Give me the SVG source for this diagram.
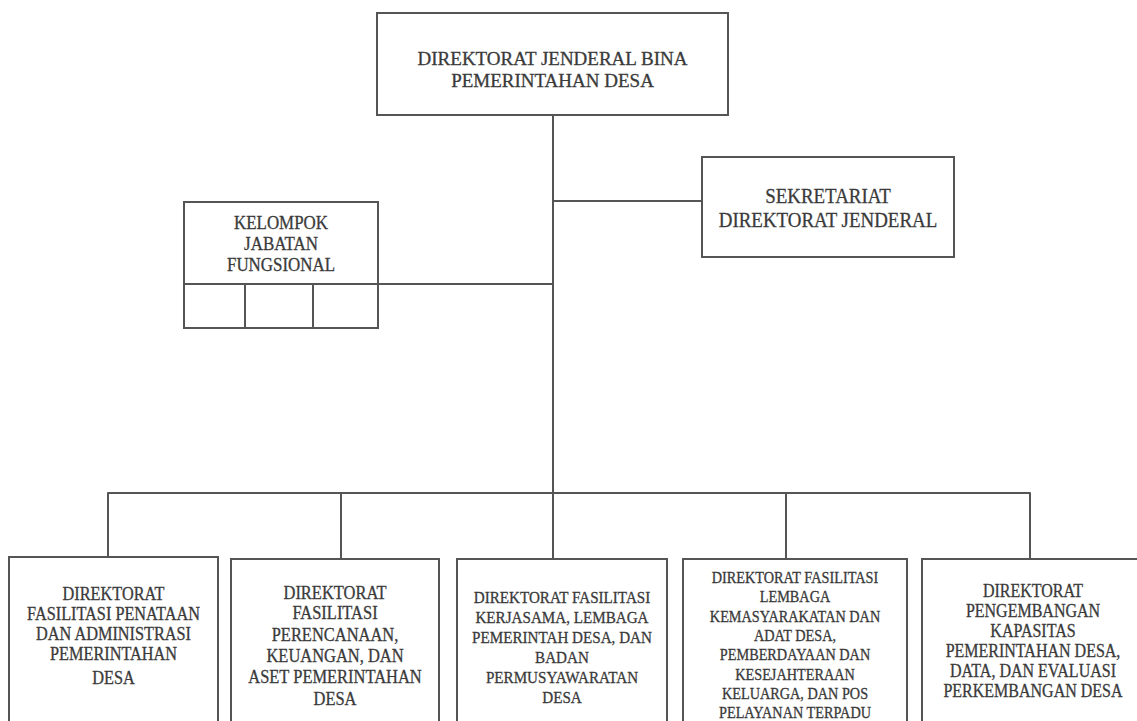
<svg xmlns="http://www.w3.org/2000/svg" width="1137" height="721" viewBox="0 0 1137 721">
  <style>
    .box { fill: #ffffff; stroke: #555555; stroke-width: 2; }
    .ln { fill: none; stroke: #555555; stroke-width: 2; stroke-linejoin: round; }
    text { font-family: "Liberation Serif", "Times New Roman", serif; fill: #3a3a3a; stroke: #3a3a3a; stroke-width: 0.3; text-anchor: middle; }
    .t19 { font-size: 19px; }
    .tsek { font-size: 21.5px; }
    .tkel { font-size: 18.8px; }
    .tb1 { font-size: 18.5px; }
    .tb2 { font-size: 18.5px; }
    .tb3 { font-size: 17.2px; }
    .tb4 { font-size: 16.4px; }
    .tb5 { font-size: 18.2px; }
  </style>
  <rect x="0" y="0" width="1137" height="721" fill="#ffffff"/>

  <g id="connectors">
    <path class="ln" d="M553,115 V493"/>
    <path class="ln" d="M553,201 H702"/>
    <path class="ln" d="M378,284 H553"/>
    <path class="ln" d="M108,557 V493 H1030 V559"/>
    <path class="ln" d="M341,493 V559"/>
    <path class="ln" d="M553,493 V559"/>
    <path class="ln" d="M786,493 V559"/>
  </g>

  <g id="dirjen">
    <rect class="box" x="377" y="13" width="351" height="102"/>
    <text class="t19" x="552.5" y="65">DIREKTORAT JENDERAL BINA</text>
    <text class="t19" x="552.5" y="87">PEMERINTAHAN DESA</text>
  </g>

  <g id="sekretariat">
    <rect class="box" x="702" y="157" width="252" height="100"/>
    <g transform="translate(828 0) scale(0.88 1)">
      <text class="tsek" x="0" y="203">SEKRETARIAT</text>
      <text class="tsek" x="0" y="227">DIREKTORAT JENDERAL</text>
    </g>
  </g>

  <g id="kelompok">
    <rect class="box" x="184" y="202" width="194" height="126"/>
    <path class="ln" d="M184,284 H378 M245,284 V328 M313,284 V328"/>
    <g transform="translate(281 0) scale(0.9 1)">
      <text class="tkel" x="0" y="229">KELOMPOK</text>
      <text class="tkel" x="0" y="250">JABATAN</text>
      <text class="tkel" x="0" y="271">FUNGSIONAL</text>
    </g>
  </g>

  <g id="dir1">
    <rect class="box" x="9" y="557" width="209" height="200"/>
    <g transform="translate(113.5 0) scale(0.88 1)">
      <text class="tb1" x="0" y="600">DIREKTORAT</text>
      <text class="tb1" x="0" y="620">FASILITASI PENATAAN</text>
      <text class="tb1" x="0" y="640">DAN ADMINISTRASI</text>
      <text class="tb1" x="0" y="660">PEMERINTAHAN</text>
      <text class="tb1" x="0" y="684">DESA</text>
    </g>
  </g>

  <g id="dir2">
    <rect class="box" x="231" y="559" width="208" height="200"/>
    <g transform="translate(335 0) scale(0.89 1)">
      <text class="tb2" x="0" y="599">DIREKTORAT</text>
      <text class="tb2" x="0" y="619">FASILITASI</text>
      <text class="tb2" x="0" y="641">PERENCANAAN,</text>
      <text class="tb2" x="0" y="662">KEUANGAN, DAN</text>
      <text class="tb2" x="0" y="683">ASET PEMERINTAHAN</text>
      <text class="tb2" x="0" y="705">DESA</text>
    </g>
  </g>

  <g id="dir3">
    <rect class="box" x="457" y="559" width="210" height="200"/>
    <g transform="translate(562 0) scale(0.88 1)">
      <text class="tb3" x="0" y="603">DIREKTORAT FASILITASI</text>
      <text class="tb3" x="0" y="623">KERJASAMA, LEMBAGA</text>
      <text class="tb3" x="0" y="643">PEMERINTAH DESA, DAN</text>
      <text class="tb3" x="0" y="663">BADAN</text>
      <text class="tb3" x="0" y="683">PERMUSYAWARATAN</text>
      <text class="tb3" x="0" y="703">DESA</text>
    </g>
  </g>

  <g id="dir4">
    <rect class="box" x="683" y="559" width="224" height="200"/>
    <g transform="translate(795 0) scale(0.87 1)">
      <text class="tb4" x="0" y="583">DIREKTORAT FASILITASI</text>
      <text class="tb4" x="0" y="602">LEMBAGA</text>
      <text class="tb4" x="0" y="622">KEMASYARAKATAN DAN</text>
      <text class="tb4" x="0" y="641">ADAT DESA,</text>
      <text class="tb4" x="0" y="660">PEMBERDAYAAN DAN</text>
      <text class="tb4" x="0" y="680">KESEJAHTERAAN</text>
      <text class="tb4" x="0" y="699">KELUARGA, DAN POS</text>
      <text class="tb4" x="0" y="718">PELAYANAN TERPADU</text>
    </g>
  </g>

  <g id="dir5">
    <rect class="box" x="922" y="559" width="224" height="200"/>
    <g transform="translate(1033 0) scale(0.88 1)">
      <text class="tb5" x="0" y="597">DIREKTORAT</text>
      <text class="tb5" x="0" y="617">PENGEMBANGAN</text>
      <text class="tb5" x="0" y="637">KAPASITAS</text>
      <text class="tb5" x="0" y="657">PEMERINTAHAN DESA,</text>
      <text class="tb5" x="0" y="677">DATA, DAN EVALUASI</text>
      <text class="tb5" x="0" y="697">PERKEMBANGAN DESA</text>
    </g>
  </g>
</svg>
